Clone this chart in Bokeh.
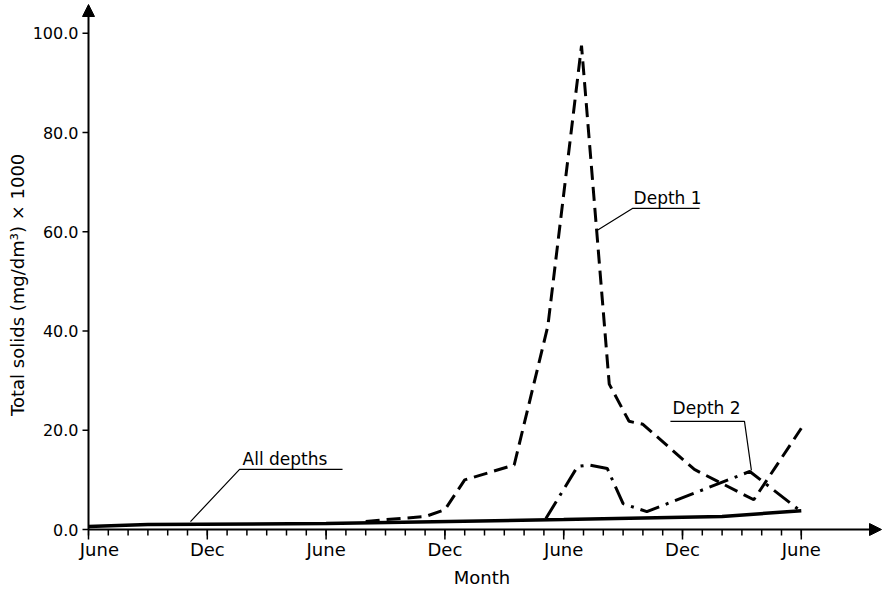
from bokeh.plotting import figure
from bokeh.models import FixedTicker, Range1d, Arrow, NormalHead, Label
from bokeh.embed import file_html
from bokeh.resources import INLINE

# ---- data (month index: 0 = first June, 36 = June three years later) ----
months_all = [0, 3, 12, 24, 32, 36]
solids_all = [0.6, 1.0, 1.2, 2.0, 2.6, 3.8]

months_d1 = [14.0, 15.0, 17.0, 18.0, 19.0, 21.5, 23.2, 24.9, 26.3, 27.3, 28.0, 30.6, 33.6, 36.0]
solids_d1 = [1.6, 2.0, 2.6, 4.0, 10.0, 13.0, 41.0, 97.5, 29.3, 21.8, 21.2, 12.1, 6.0, 20.4]

months_d2 = [23.1, 24.7, 25.3, 26.2, 27.0, 28.2, 33.4, 36.0]
solids_d2 = [2.2, 12.7, 13.0, 12.3, 5.2, 3.6, 11.7, 3.6]

x_label_months = [0, 6, 12, 18, 24, 30, 36]
x_tick_labels = ["June", "Dec", "June", "Dec", "June", "Dec", "June"]
x_all_months = list(range(0, 37))
y_ticks = [0, 20, 40, 60, 80, 100]
y_tick_labels = ["0.0", "20.0", "40.0", "60.0", "80.0", "100.0"]

# annotation leaders (data coordinates)
lead_all_x = [5.15, 7.63, 12.83]
lead_all_y = [1.6, 12.1, 12.1]
lead_d1_x = [25.7, 27.47, 30.86]
lead_d1_y = [60.3, 64.7, 64.7]
lead_d2_x = [33.48, 33.13, 29.39]
lead_d2_y = [11.9, 21.8, 21.8]

# ---- layout constants (pixels) ----
FONT = "DejaVu Sans"
W, H = 882, 590
PX_MONTH = 19.8          # pixels per month
PX_UNIT = 4.962          # pixels per y unit
ORIGIN_X, ORIGIN_Y = 88, 529   # canvas pixel of (month 0, value 0)
FRAME_L, FRAME_R, FRAME_T, FRAME_B = 81, 882, 0, 540

x_start = (FRAME_L - ORIGIN_X) / PX_MONTH
x_end = (FRAME_R - ORIGIN_X) / PX_MONTH
y_start = -(FRAME_B - ORIGIN_Y) / PX_UNIT
y_end = (ORIGIN_Y - FRAME_T) / PX_UNIT
dx = 1.0 / PX_MONTH   # one pixel in x data units
dy = 1.0 / PX_UNIT    # one pixel in y data units

p = figure(width=W, height=H, x_range=Range1d(x_start, x_end), y_range=Range1d(y_start, y_end),
           output_backend="svg", toolbar_location=None,
           min_border_left=FRAME_L, min_border_right=W - FRAME_R,
           min_border_top=FRAME_T, min_border_bottom=H - FRAME_B)
p.outline_line_color = None
p.grid.visible = False
p.background_fill_color = "white"
p.border_fill_color = "white"

# ---- Bokeh axes: tick labels and titles ----
label_pos = list(x_label_months)
label_pos[0] = x_label_months[0] + 0.55   # first label sits clear of the y axis
xa = p.xaxis[0]
xa.ticker = FixedTicker(ticks=label_pos, minor_ticks=[])
xa.major_label_overrides = {m: l for m, l in zip(label_pos, x_tick_labels)}
xa.major_label_text_font = FONT
xa.major_label_text_font_size = "18px"
xa.major_label_text_color = "black"
xa.major_label_standoff = -2
xa.axis_line_color = None
xa.major_tick_line_color = None
xa.minor_tick_line_color = None
xa.major_tick_in = 0
xa.major_tick_out = 0
xa.minor_tick_in = 0
xa.minor_tick_out = 0
xa.axis_label = "Month"
xa.axis_label_text_font = FONT
xa.axis_label_text_font_size = "18px"
xa.axis_label_text_font_style = "normal"
xa.axis_label_text_color = "black"
xa.axis_label_standoff = 4

ya = p.yaxis[0]
ya.ticker = FixedTicker(ticks=y_ticks, minor_ticks=[])
ya.major_label_overrides = {t: l for t, l in zip(y_ticks, y_tick_labels)}
ya.major_label_text_font = FONT
ya.major_label_text_font_size = "16px"
ya.major_label_text_color = "black"
ya.major_label_standoff = 3
ya.axis_line_color = None
ya.major_tick_line_color = None
ya.minor_tick_line_color = None
ya.major_tick_in = 0
ya.major_tick_out = 0
ya.minor_tick_in = 0
ya.minor_tick_out = 0
ya.axis_label = "Total solids (mg/dm³) × 1000" + "\u00a0" * 5
ya.axis_label_text_font = FONT
ya.axis_label_text_font_size = "18px"
ya.axis_label_text_font_style = "normal"
ya.axis_label_text_color = "black"
ya.axis_label_standoff = 2

# ---- axis lines with arrowheads, and tick marks ----
head = dict(size=12, fill_color="black", line_color="black", line_width=1)
p.add_layout(Arrow(end=NormalHead(**head), x_start=0, y_start=0, x_end=0, y_end=y_end - 4 * dy,
                   line_width=2, line_color="black"))
p.add_layout(Arrow(end=NormalHead(**head), x_start=0, y_start=0, x_end=x_end - 1 * dx, y_end=0,
                   line_width=2, line_color="black"))

p.segment(x0=x_all_months, y0=[0] * len(x_all_months), x1=x_all_months,
          y1=[-6 * dy] * len(x_all_months), line_color="black", line_width=1.5)
p.segment(x0=x_label_months, y0=[0] * len(x_label_months), x1=x_label_months,
          y1=[-10 * dy] * len(x_label_months), line_color="black", line_width=1.5)
p.segment(x0=[-6 * dx] * len(y_ticks), y0=y_ticks, x1=[0] * len(y_ticks), y1=y_ticks,
          line_color="black", line_width=1.5)

# ---- series ----
p.line(months_all, solids_all, line_color="black", line_width=3.5)
p.line(months_d1, solids_d1, line_color="black", line_width=3, line_dash="14 7")
p.line(months_d2, solids_d2, line_color="black", line_width=3, line_dash="20 7 3 7")

# ---- leader lines and series labels ----
p.line(lead_all_x, lead_all_y, line_color="black", line_width=1.2)
p.line(lead_d1_x, lead_d1_y, line_color="black", line_width=1.2)
p.line(lead_d2_x, lead_d2_y, line_color="black", line_width=1.2)

for txt, x, y in [("All depths", 7.78, 14.2), ("Depth 1", 27.53, 66.9), ("Depth 2", 29.5, 24.4)]:
    p.add_layout(Label(x=x, y=y, text=txt, text_font=FONT, text_font_size="17px",
                       text_color="black", text_baseline="middle", text_align="left"))

open("out.html", "w").write(file_html(p, INLINE))
